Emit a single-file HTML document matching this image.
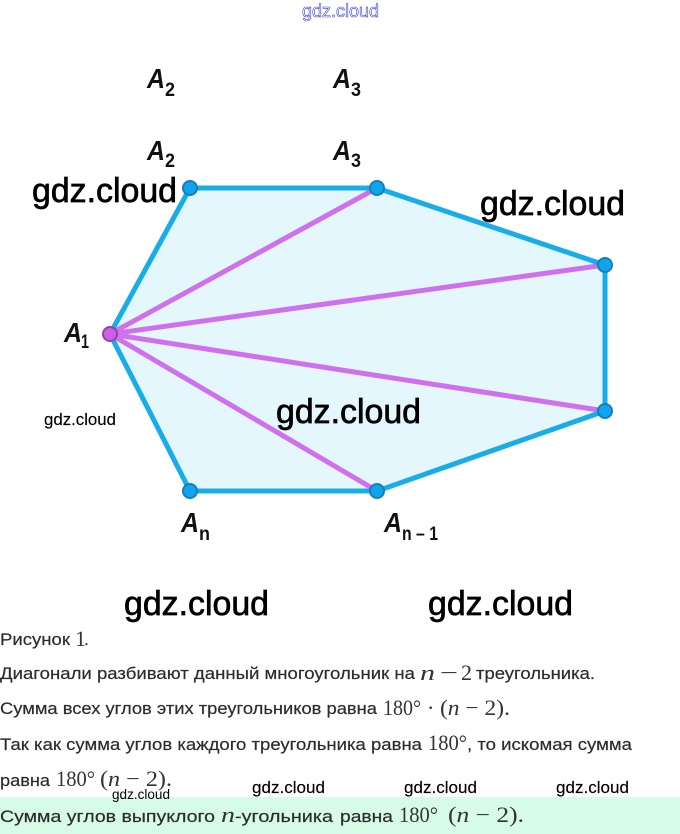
<!DOCTYPE html>
<html><head><meta charset="utf-8">
<style>
html,body{margin:0;padding:0;background:#fff;width:680px;height:834px;overflow:hidden}
svg{display:block}
.s{font-family:"Liberation Sans",sans-serif;font-size:17px;fill:#2c2c2c;stroke:#2c2c2c;stroke-width:.2}
.m{font-family:"Liberation Serif",serif;font-size:22px;fill:#333}
.i{font-style:italic}
.w{font-family:"Liberation Sans",sans-serif;fill:#000}
.wl{font-size:34px;stroke:#000;stroke-width:.7}
.ws{font-size:17px;stroke:#000;stroke-width:.15}
.a{font-family:"Liberation Sans",sans-serif;font-weight:bold;font-style:italic;font-size:28px;fill:#111}
.b{font-family:"Liberation Sans",sans-serif;font-weight:bold;font-size:19px;fill:#111}
</style></head>
<body>
<svg xmlns="http://www.w3.org/2000/svg" width="680" height="834" viewBox="0 0 680 834">
<rect x="0" y="797" width="680" height="37" fill="#d6fbe7"/>
<polygon points="190,188 377,188 605,265 605,411 377,491 190,491 110,334" fill="#e3f7fd"/>
<g stroke="#cf70ee" stroke-width="5" fill="none">
<line x1="110" y1="334" x2="377" y2="188"/>
<line x1="110" y1="334" x2="605" y2="265"/>
<line x1="110" y1="334" x2="605" y2="411"/>
<line x1="110" y1="334" x2="377" y2="491"/>
</g>
<polygon points="190,188 377,188 605,265 605,411 377,491 190,491 110,334" fill="none" stroke="#18ade8" stroke-width="5" stroke-linejoin="round"/>
<g fill="#0fa5ee" stroke="#1480b4" stroke-width="2">
<circle cx="190" cy="188" r="7"/><circle cx="377" cy="188" r="7"/>
<circle cx="605" cy="265" r="7"/><circle cx="605" cy="411" r="7"/>
<circle cx="377" cy="491" r="7"/><circle cx="190" cy="491" r="7"/>
</g>
<circle cx="110" cy="334" r="7" fill="#cf5fe6" stroke="#8a46a8" stroke-width="2"/>

<text class="a" x="147" y="88" textLength="18" lengthAdjust="spacingAndGlyphs">A</text>
<text class="b" x="165" y="96" textLength="10" lengthAdjust="spacingAndGlyphs">2</text>
<text class="a" x="333" y="88" textLength="18" lengthAdjust="spacingAndGlyphs">A</text>
<text class="b" x="351" y="96" textLength="10" lengthAdjust="spacingAndGlyphs">3</text>
<text class="a" x="147" y="160" textLength="18" lengthAdjust="spacingAndGlyphs">A</text>
<text class="b" x="165" y="167" textLength="10" lengthAdjust="spacingAndGlyphs">2</text>
<text class="a" x="333" y="160" textLength="18" lengthAdjust="spacingAndGlyphs">A</text>
<text class="b" x="351" y="167" textLength="10" lengthAdjust="spacingAndGlyphs">3</text>
<text class="a" x="64" y="342" textLength="18" lengthAdjust="spacingAndGlyphs">A</text>
<text class="b" x="81" y="348" textLength="8" lengthAdjust="spacingAndGlyphs">1</text>
<text class="a" x="181" y="532" textLength="18" lengthAdjust="spacingAndGlyphs">A</text>
<text class="b" x="199" y="540" textLength="11" lengthAdjust="spacingAndGlyphs">n</text>
<text class="a" x="384" y="532" textLength="18" lengthAdjust="spacingAndGlyphs">A</text>
<text class="b" x="402" y="540" textLength="36" lengthAdjust="spacingAndGlyphs">n – 1</text>

<text class="s" x="0" y="645" textLength="70" lengthAdjust="spacingAndGlyphs">Рисунок</text>
<text class="m" x="75" y="646">1</text><text class="s" x="84" y="645">.</text>

<text class="s" x="0" y="679" textLength="415" lengthAdjust="spacingAndGlyphs">Диагонали разбивают данный многоугольник на</text>
<text class="m i" x="420" y="680" textLength="15" lengthAdjust="spacingAndGlyphs">n</text><text class="m" x="440" y="680" textLength="18" lengthAdjust="spacingAndGlyphs">−</text><text class="m" x="461" y="680">2</text>
<text class="s" x="476" y="679" textLength="119" lengthAdjust="spacingAndGlyphs">треугольника.</text>

<text class="s" x="0" y="714" textLength="377" lengthAdjust="spacingAndGlyphs">Сумма всех углов этих треугольников равна</text>
<text class="m" x="383" y="715" textLength="38" lengthAdjust="spacingAndGlyphs">180°</text>
<text class="m" x="427" y="715">·</text>
<text class="m" x="440" y="715" textLength="70" lengthAdjust="spacingAndGlyphs">(<tspan class="i">n</tspan> − 2).</text>

<text class="s" x="0" y="750" textLength="422" lengthAdjust="spacingAndGlyphs">Так как сумма углов каждого треугольника равна</text>
<text class="m" x="428" y="750" textLength="39" lengthAdjust="spacingAndGlyphs">180°</text>
<text class="s" x="467" y="750" textLength="165" lengthAdjust="spacingAndGlyphs">, то искомая сумма</text>

<text class="s" x="0" y="786" textLength="50" lengthAdjust="spacingAndGlyphs">равна</text>
<text class="m" x="56" y="786" textLength="39" lengthAdjust="spacingAndGlyphs">180°</text>
<text class="m" x="100" y="786" textLength="72" lengthAdjust="spacingAndGlyphs">(<tspan class="i">n</tspan> − 2).</text>

<text class="s" x="0" y="822" textLength="215" lengthAdjust="spacingAndGlyphs">Сумма углов выпуклого</text>
<text class="m i" x="221" y="822" textLength="14" lengthAdjust="spacingAndGlyphs">n</text>
<text class="s" x="235" y="822" textLength="98" lengthAdjust="spacingAndGlyphs">-угольника</text>
<text class="s" x="340" y="822" textLength="53" lengthAdjust="spacingAndGlyphs">равна</text>
<text class="m" x="399" y="822" textLength="39" lengthAdjust="spacingAndGlyphs">180°</text>
<text class="m" x="448" y="822" textLength="76" lengthAdjust="spacingAndGlyphs">(<tspan class="i">n</tspan> − 2).</text>

<text class="w wl" x="32" y="202" textLength="145" lengthAdjust="spacingAndGlyphs">gdz.cloud</text>
<text class="w wl" x="480" y="215" textLength="145" lengthAdjust="spacingAndGlyphs">gdz.cloud</text>
<text class="w wl" x="276" y="423" textLength="145" lengthAdjust="spacingAndGlyphs">gdz.cloud</text>
<text class="w wl" x="124" y="615" textLength="145" lengthAdjust="spacingAndGlyphs">gdz.cloud</text>
<text class="w wl" x="428" y="615" textLength="145" lengthAdjust="spacingAndGlyphs">gdz.cloud</text>
<text class="w ws" x="44" y="425" textLength="72" lengthAdjust="spacingAndGlyphs">gdz.cloud</text>
<text class="w ws" x="252" y="793" textLength="73" lengthAdjust="spacingAndGlyphs">gdz.cloud</text>
<text class="w ws" x="404" y="793" textLength="73" lengthAdjust="spacingAndGlyphs">gdz.cloud</text>
<text class="w ws" x="556" y="793" textLength="73" lengthAdjust="spacingAndGlyphs">gdz.cloud</text>
<text class="w" x="112" y="799" font-size="14" textLength="58" lengthAdjust="spacingAndGlyphs">gdz.cloud</text>
<text x="302" y="17" font-family="Liberation Sans, sans-serif" font-size="18" fill="#fff" stroke="#3a3ad0" stroke-width="0.6" textLength="77" lengthAdjust="spacingAndGlyphs">gdz.cloud</text>
</svg>
</body></html>
